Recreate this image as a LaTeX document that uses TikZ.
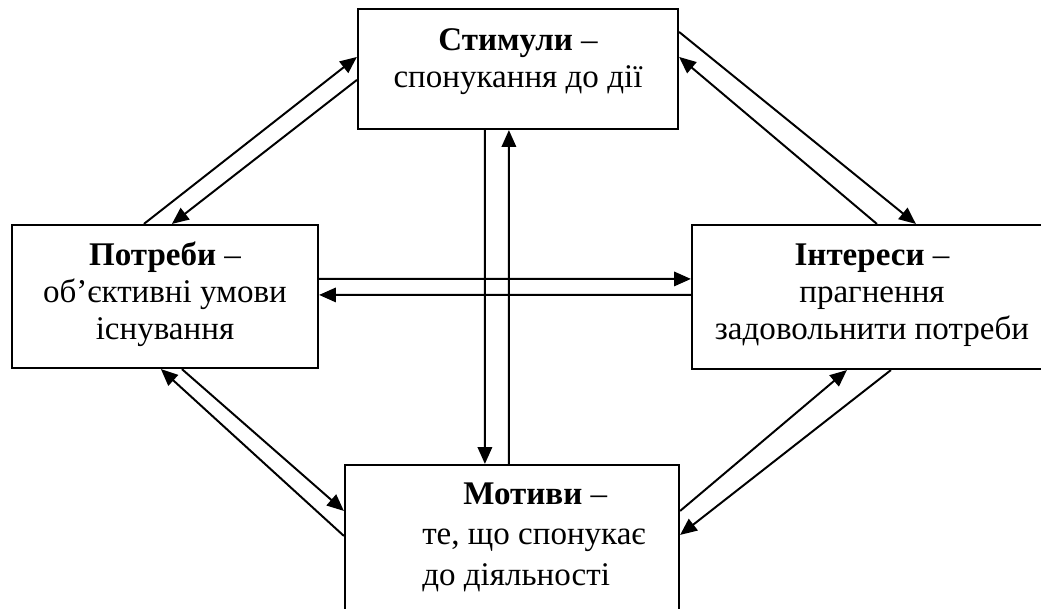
\documentclass[tikz,border=0pt]{standalone}
\usepackage{fontspec}
\setmainfont{Liberation Serif}
\usetikzlibrary{arrows.meta,calc}

\begin{document}
\begin{tikzpicture}[x=0.025cm,y=-0.025cm,
    box/.style={draw,line width=1.5pt,inner sep=0pt},
    txt/.style={align=center,inner sep=0pt,font=\fontsize{23.5}{26.3}\selectfont},
    arr/.style={line width=1.4pt,-{Triangle[length=0.42cm,width=0.36cm]}}]
  \useasboundingbox (0,0) rectangle (1041,608);
  \node[box,minimum width=8cm,minimum height=3cm] (stim) at (518,69) {};
  \node[box,minimum width=7.65cm,minimum height=3.575cm] (potr) at (165,296.5) {};
  \node[box,minimum width=8.85cm,minimum height=3.6cm] (inter) at (869,297) {};
  \node[box,minimum width=8.35cm,minimum height=4cm] (motyv) at (512,545) {};
  \node[txt,anchor=base] (stimtxt) at (518,87) {\textbf{Стимули} –\\спонукання до дії};
  \node[txt,anchor=base] (potrtxt) at (165,339) {\textbf{Потреби} –\\об’єктивні умови\\існування};
  \node[txt,anchor=base] (intertxt) at (872,339) {\textbf{Інтереси} –\\прагнення\\задовольнити потреби};
  \node[txt,align=left,anchor=base west,font=\fontsize{23.5}{28.8}\selectfont] (motyvtxt) at (422,585)
    {\hspace*{1.025cm}\textbf{Мотиви} –\\те, що спонукає\\до діяльності};
  \draw[arr] ($(potr.north west)+(133,0)$) -- ($(stim.north west)+(0,49)$);
  \draw[arr] ($(stim.north west)+(0,72)$) -- ($(potr.north west)+(161,0)$);
  \draw[arr] ($(stim.north east)+(0,24)$) -- ($(inter.north west)+(225,0)$);
  \draw[arr] ($(inter.north west)+(186,0)$) -- ($(stim.north east)+(0,49)$);
  \draw[arr] ($(potr.south west)+(171,0)$) -- ($(motyv.north west)+(0,47)$);
  \draw[arr] ($(motyv.north west)+(0,72)$) -- ($(potr.south west)+(150,0)$);
  \draw[arr] ($(inter.south west)+(200,0)$) -- ($(motyv.north east)+(0,71)$);
  \draw[arr] ($(motyv.north east)+(0,47)$) -- ($(inter.south west)+(156,0)$);
  \draw[arr] ($(potr.north east)+(0,55)$) -- ($(inter.north west)+(0,55)$);
  \draw[arr] ($(inter.north west)+(0,71)$) -- ($(potr.north east)+(0,71)$);
  \draw[arr] ($(stim.south west)+(128,0)$) -- ($(motyv.north west)+(141,0)$);
  \draw[arr] ($(motyv.north west)+(165,0)$) -- ($(stim.south west)+(152,0)$);
\end{tikzpicture}
\end{document}
